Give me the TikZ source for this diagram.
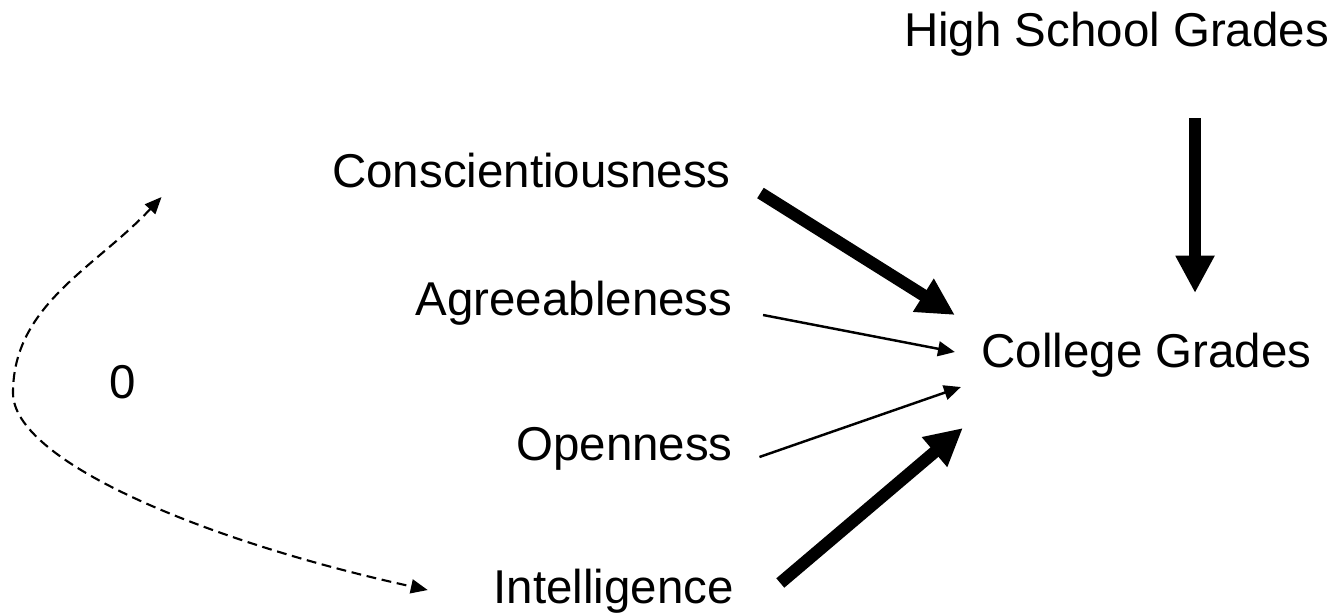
\documentclass[tikz,border=0pt]{standalone}
\usepackage{fontspec}
\setmainfont{Liberation Sans}
\usetikzlibrary{arrows.meta,calc}
\tikzset{
    factor/.style={
        inner sep=0pt,
        anchor=base,
        font=\fontsize{13.5pt}{16pt}\selectfont
    },
    strong path/.style={
        line width=3.5pt,
        -{Triangle[length=10.6pt,width=10.4pt]}
    },
    weak path/.style={
        line width=0.7pt,
        -{Triangle[length=4.8pt,width=4.2pt]}
    },
    zero corr/.style={
        line width=0.6pt,
        dash pattern=on 2.8pt off 1.6pt,
        {Triangle[length=4.8pt,width=4pt]}-{Triangle[length=4.8pt,width=4pt]}
    }
}
\begin{document}
\begin{tikzpicture}[x=0.01cm,y=-0.01cm]
                \useasboundingbox (0,0) rectangle (1334,612);
                \node[factor] (hs) at (1116.5,47) {High School Grades};
                \node[factor] (consc) at (531.5,187) {Conscientiousness};
                \node[factor] (agree) at (574,315) {Agreeableness};
                \node[factor] (college) at (1146.5,367) {College Grades};
                \node[factor] (open) at (624.5,460) {Openness};
                \node[factor] (intel) at (613.5,603) {Intelligence};
                \node[factor] (zero) at (122.5,398) {0};
                \draw[strong path] ([shift={(29,6)}]consc.base east) -- ([shift={(-26,-52)}]college.base west);
                \draw[weak path] ([shift={(30,0)}]agree.base east) -- ([shift={(-26,-15)}]college.base west);
                \draw[weak path] ([shift={(26,-3)}]open.base east) -- ([shift={(-20,20)}]college.base west);
                \draw[strong path] ([shift={(46,-20)}]intel.base east) -- ([shift={(-18,61)}]college.base west);
                \draw[strong path] ([shift={(78.5,71)}]hs.base) -- ([shift={(48.5,-74)}]college.base);
                \draw[zero corr] ([shift={(-170,10)}]consc.base west)
                    .. controls (95,268) and (13,305) .. (13,393)
                    .. controls (13,460) and (200,540) .. ([shift={(-65,-13)}]intel.base west);
            \end{tikzpicture}
\end{document}
